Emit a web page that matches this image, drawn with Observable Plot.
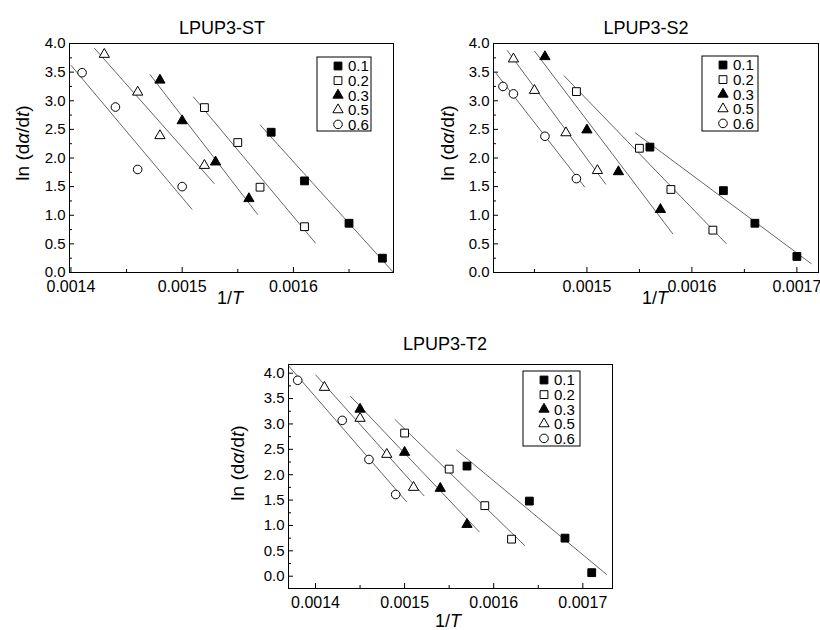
<!DOCTYPE html>
<html><head><meta charset="utf-8">
<script src="https://cdn.jsdelivr.net/npm/d3@7"></script>
<script src="https://cdn.jsdelivr.net/npm/@observablehq/plot@0.6"></script>
<style>
body{margin:0;background:#fff;}
#wrap{position:relative;width:820px;height:630px;overflow:hidden;background:#fff;}
#wrap svg{position:absolute;}
</style></head><body><div id="wrap"></div>
<script>
// ---- series (conversion levels) ----
const seriesNames   = ["0.1","0.2","0.3","0.5","0.6"];
const seriesSymbols = ["square","square","triangle","triangle","circle"];
const seriesFilled  = [true,false,true,false,false];

// ---- LPUP3-ST ----
const stInvT = [
  [0.00158,0.00161,0.00165,0.00168],
  [0.00152,0.00155,0.00157,0.00161],
  [0.00148,0.00150,0.00153,0.00156],
  [0.00143,0.00146,0.00148,0.00152],
  [0.00141,0.00144,0.00146,0.00150]
];
const stLnRate = [
  [2.45,1.60,0.86,0.25],
  [2.88,2.27,1.49,0.80],
  [3.36,2.65,1.93,1.29],
  [3.81,3.15,2.39,1.87],
  [3.49,2.89,1.80,1.50]
];
const stFitX1 = [0.001570,0.001510,0.001471,0.001421,0.001400];
const stFitY1 = [2.58,3.07,3.46,3.92,3.62];
const stFitX2 = [0.001690,0.001620,0.001568,0.001529,0.001509];
const stFitY2 = [0.00,0.51,1.01,1.55,1.10];

// ---- LPUP3-S2 ----
const s2InvT = [
  [0.00156,0.00163,0.00166,0.00170],
  [0.00149,0.00155,0.00158,0.00162],
  [0.00146,0.00150,0.00153,0.00157],
  [0.00143,0.00145,0.00148,0.00151],
  [0.00142,0.00143,0.00146,0.00149]
];
const s2LnRate = [
  [2.19,1.43,0.86,0.28],
  [3.16,2.17,1.45,0.74],
  [3.77,2.49,1.76,1.10],
  [3.73,3.18,2.44,1.78],
  [3.25,3.12,2.38,1.64]
];
const s2FitX1 = [0.001546,0.001478,0.001450,0.001424,0.001413];
const s2FitY1 = [2.44,3.44,3.87,3.88,3.49];
const s2FitX2 = [0.001714,0.001633,0.001582,0.001518,0.001498];
const s2FitY2 = [0.15,0.50,0.67,1.54,1.49];

// ---- LPUP3-T2 ----
const t2InvT = [
  [0.00157,0.00164,0.00168,0.00171],
  [0.00150,0.00155,0.00159,0.00162],
  [0.00145,0.00150,0.00154,0.00157],
  [0.00141,0.00145,0.00148,0.00151],
  [0.00138,0.00143,0.00146,0.00149]
];
const t2LnRate = [
  [2.17,1.48,0.75,0.07],
  [2.82,2.11,1.39,0.73],
  [3.29,2.44,1.73,1.02],
  [3.72,3.11,2.40,1.75],
  [3.86,3.07,2.30,1.61]
];
const t2FitX1 = [0.001558,0.001489,0.001439,0.001400,0.001370];
const t2FitY1 = [2.49,3.09,3.55,3.97,4.14];
const t2FitX2 = [0.001727,0.001635,0.001584,0.001522,0.0015025];
const t2FitY2 = [0.03,0.60,0.87,1.58,1.46];

// ---- tick values ----
const yMajorTicks = [0,0.5,1,1.5,2,2.5,3,3.5,4];
const yMinorTicks = [0.25,0.75,1.25,1.75,2.25,2.75,3.25,3.75];
const stXMajor = [0.0014,0.0015,0.0016];
const s2XMajor = [0.0015,0.0016,0.0017];
const t2XMajor = [0.0014,0.0015,0.0016,0.0017];
const xMinorTicks = [0.00145,0.00155,0.00165];

const FONT = "Liberation Sans, Arial, Helvetica, sans-serif";

const panels = [
  {title:"LPUP3-ST", invT:stInvT, ln:stLnRate, fx1:stFitX1, fy1:stFitY1, fx2:stFitX2, fy2:stFitY2,
   xMajor:stXMajor, left:0, top:0, width:410, height:310, ml:69, mr:17, mt:43, mb:38,
   xDomain:[0.0013987,0.00169], yDomain:[0,4],
   titlePos:[222,34], ylabPos:[22,143], xlabPos:[230,304], legend:{x:317,y:57,w:54,h:74}},
  {title:"LPUP3-S2", invT:s2InvT, ln:s2LnRate, fx1:s2FitX1, fy1:s2FitY1, fx2:s2FitX2, fy2:s2FitY2,
   xMajor:s2XMajor, left:410, top:0, width:410, height:310, ml:83, mr:2, mt:43, mb:38,
   xDomain:[0.001411,0.0017206], yDomain:[0,4],
   titlePos:[236,34], ylabPos:[37,143], xlabPos:[245,304], legend:{x:292,y:56,w:56,h:75}},
  {title:"LPUP3-T2", invT:t2InvT, ln:t2LnRate, fx1:t2FitX1, fy1:t2FitY1, fx2:t2FitX2, fy2:t2FitY2,
   xMajor:t2XMajor, left:200, top:310, width:420, height:320, ml:88, mr:8, mt:54, mb:42,
   xDomain:[0.0013697,0.0017333], yDomain:[-0.242,4.171],
   titlePos:[245,40], ylabPos:[37,153], xlabPos:[248,317], legend:{x:323,y:61,w:57,h:75}}
];

const rBySymbol = {square:4.4, triangle:3.8, circle:4.3};
const d3Sym = {square:d3.symbolSquare, triangle:d3.symbolTriangle, circle:d3.symbolCircle};

const wrap = document.getElementById("wrap");

panels.forEach(p => {
  const fits = seriesNames.map((s,i)=>({series:s, x1:p.fx1[i], y1:p.fy1[i], x2:p.fx2[i], y2:p.fy2[i]}));
  const dotMarks = seriesNames.map((s,i)=>{
    const rows = p.invT[i].map((x,j)=>({series:s, x, y:p.ln[i][j]}));
    return Plot.dot(rows, {x:"x", y:"y", symbol:seriesSymbols[i], r:rBySymbol[seriesSymbols[i]],
      fill: seriesFilled[i] ? "#000" : "#fff", stroke:"#000", strokeWidth:1});
  });
  const svg = Plot.plot({
    width:p.width, height:p.height,
    marginLeft:p.ml, marginRight:p.mr, marginTop:p.mt, marginBottom:p.mb,
    style:{fontFamily:FONT, color:"#000", background:"transparent", overflow:"visible"},
    x:{type:"linear", domain:p.xDomain},
    y:{type:"linear", domain:p.yDomain},
    marks:[
      Plot.link(fits, {x1:"x1", y1:"y1", x2:"x2", y2:"y2", stroke:"#555", strokeWidth:0.9}),
      ...dotMarks,
      Plot.axisX(p.xMajor, {anchor:"bottom", tickSize:-5, tickPadding:13, tickFormat:d=>d.toFixed(4), label:null, fontSize:16}),
      Plot.axisX(xMinorTicks.filter(v=>v>p.xDomain[0]&&v<p.xDomain[1]), {anchor:"bottom", tickSize:-3, tickFormat:()=>"", label:null}),
      Plot.axisY(yMajorTicks, {anchor:"left", tickSize:-5, tickPadding:9, tickFormat:d=>d.toFixed(1), label:null, fontSize:15}),
      Plot.axisY(yMinorTicks, {anchor:"left", tickSize:-3, tickFormat:()=>"", label:null}),
      Plot.frame({stroke:"#000", strokeWidth:1})
    ]
  });
  svg.style.left = p.left + "px";
  svg.style.top = p.top + "px";
  const root = d3.select(svg);
  const g = root.append("g").attr("font-family", FONT).attr("fill","#000").attr("text-anchor","start");
  // title
  g.append("text").attr("x",p.titlePos[0]).attr("y",p.titlePos[1]).attr("text-anchor","middle")
    .attr("font-size",18).text(p.title);
  // y label
  const yl = g.append("text").attr("transform",`translate(${p.ylabPos[0]},${p.ylabPos[1]}) rotate(-90)`)
    .attr("text-anchor","middle").attr("dy","0.35em").attr("font-size",19);
  yl.append("tspan").text("ln (d");
  yl.append("tspan").attr("font-style","italic").text("α");
  yl.append("tspan").text("/d");
  yl.append("tspan").attr("font-style","italic").text("t");
  yl.append("tspan").text(")");
  // x label
  const xl = g.append("text").attr("x",p.xlabPos[0]).attr("y",p.xlabPos[1]).attr("text-anchor","middle").attr("font-size",18);
  xl.append("tspan").text("1/");
  xl.append("tspan").attr("font-style","italic").text("T");
  // legend
  const L = p.legend;
  g.append("rect").attr("x",L.x).attr("y",L.y).attr("width",L.w).attr("height",L.h)
    .attr("fill","#fff").attr("stroke","#000").attr("stroke-width",1);
  seriesNames.forEach((s,i)=>{
    const cy = L.y + 9 + i*14.6;
    const sym = seriesSymbols[i];
    g.append("path").attr("d", d3.symbol(d3Sym[sym], Math.PI*rBySymbol[sym]*rBySymbol[sym])())
      .attr("transform",`translate(${L.x+21},${cy})`)
      .attr("fill", seriesFilled[i] ? "#000" : "#fff").attr("stroke","#000").attr("stroke-width",1);
    g.append("text").attr("x",L.x+31).attr("y",cy).attr("dy","0.36em").attr("text-anchor","start")
      .attr("font-size",15).text(s);
  });
  wrap.appendChild(svg);
});
</script>
</body></html>
